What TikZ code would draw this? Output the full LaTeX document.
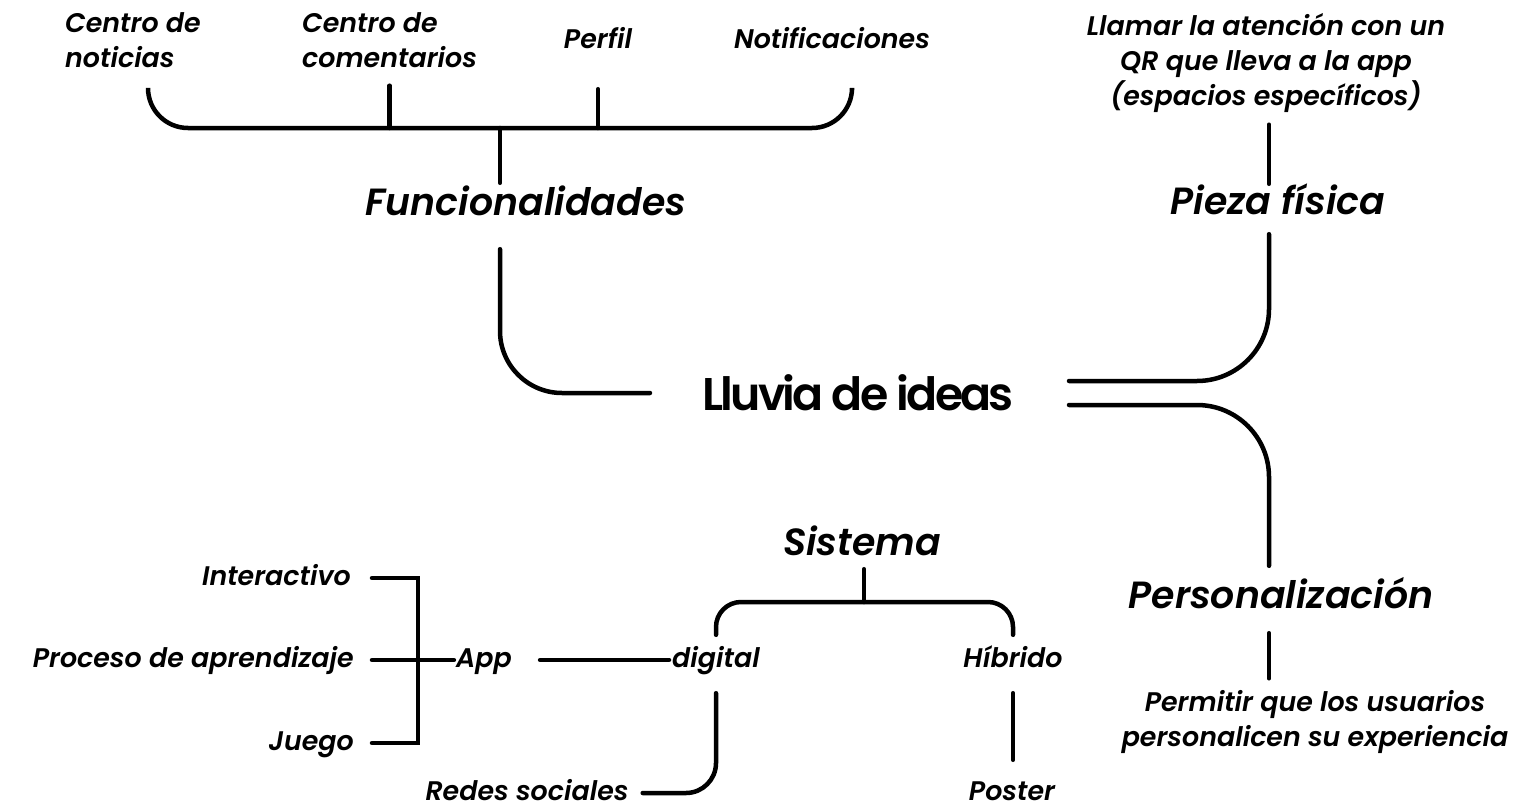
\documentclass[tikz,border=0pt]{standalone}
\usepackage{fontspec}
\setmainfont{Poppins}[ItalicFont={Poppins SemiBold Italic},BoldFont={Poppins SemiBold}]
\usetikzlibrary{positioning}

\tikzset{
  etiqueta/.style={font=\fontsize{27}{35}\selectfont\itshape, inner sep=0pt, align=center, text height=20bp, text depth=6bp},
  nota/.style={font=\fontsize{27}{35}\selectfont\itshape, inner sep=0pt, align=center},
  tema/.style={font=\fontsize{38}{45}\selectfont\itshape, inner sep=0pt, text height=28bp, text depth=8bp},
  central/.style={font=\fontsize{46}{50}\selectfont\bfseries\addfontfeatures{LetterSpace=-6}, inner sep=0pt},
  linea/.style={line width=4.5bp, line cap=round},
}

\begin{document}
\begin{tikzpicture}[x=1bp, y=-1bp]
  \useasboundingbox (0,0) rectangle (1521,808);

  % Idea central
  \node[central] (lluvia) at (858,393) {Lluvia de ideas};

  % Temas
  \node[tema] (func) at (526,205) {Funcionalidades};
  \node[tema] (pieza) at (1278,204) {Pieza física};
  \node[tema] (perso) at (1281,598) {Personalización};
  \node[tema] (sist) at (862,545) {Sistema};

  % Funcionalidades
  \node[nota, align=left, anchor=west] (noti) at (65,40) {Centro de\\noticias};
  \node[nota, align=left, anchor=west] (coment) at (302,40) {Centro de\\comentarios};
  \node[etiqueta] (perfil) at (598,42) {Perfil};
  \node[etiqueta] (notif) at (832,42) {Notificaciones};
  \coordinate (barra) at (500,128);

  \draw[linea, rounded corners=40bp] (148,90) |- (852,128) -- (852,90);
  \draw[linea, shorten <=18bp] (coment.south) -- (coment.south |- barra);
  \draw[linea, shorten <=34bp] (perfil.south) -- (perfil.south |- barra);
  \draw[linea, shorten >=4bp] (barra) -- (barra |- func.north);
  \draw[linea, rounded corners=62bp, shorten <=26bp, shorten >=52bp] (func.south -| barra) |- (lluvia.west);

  % Pieza fisica
  \node[nota] (llamar) at (1266,63) {Llamar la atención con un\\QR que lleva a la app\\(espacios específicos)};
  \coordinate (eje) at (1269,400);
  \draw[linea, shorten <=12bp, shorten >=2bp] (eje |- llamar.south) -- (eje |- pieza.north);
  \draw[linea, rounded corners=72bp, shorten <=55bp, shorten >=12bp] ([yshift=12bp]lluvia.east) -| (eje |- pieza.south);

  % Personalizacion
  \node[nota] (permitir) at (1315,722) {Permitir que los usuarios\\personalicen su experiencia};
  \draw[linea, rounded corners=72bp, shorten <=55bp, shorten >=14bp] ([yshift=-12bp]lluvia.east) -| (eje |- perso.north);
  \draw[linea, shorten <=17bp, shorten >=12bp] (eje |- perso.south) -- (eje |- permitir.north);

  % Sistema
  \node[etiqueta] (digital) at (716,660) {digital};
  \node[etiqueta] (hibrido) at (1013,660) {Híbrido};
  \node[etiqueta] (app) at (484,660) {App};
  \node[etiqueta] (redes) at (527,793) {Redes sociales};
  \node[etiqueta] (poster) at (1012,793) {Poster};
  \coordinate (llave) at (864,602);

  \draw[linea, shorten <=6bp] (sist.south -| llave) -- (llave);
  \draw[linea, rounded corners=25bp, shorten <=12bp, shorten >=12bp] (digital.north) |- (llave) -| (hibrido.north);
  \draw[linea, shorten <=3bp, shorten >=28bp] (digital.west) -- (app.east);
  \draw[linea, rounded corners=30bp, shorten <=20bp, shorten >=14bp] (digital.south) |- (redes.east);
  \draw[linea, shorten <=20bp, shorten >=20bp] (hibrido.south) -- (hibrido.south |- poster.north);

  % App
  \node[etiqueta, anchor=east] (inter) at (351,578) {Interactivo};
  \node[etiqueta, anchor=east] (proceso) at (354,660) {Proceso de aprendizaje};
  \node[etiqueta, anchor=east] (juego) at (354,743) {Juego};
  \coordinate (corchete) at (418,660);

  \draw[linea, shorten <=21bp, shorten >=18bp] (inter.east) -| (corchete |- juego.east) -- (juego.east);
  \draw[linea, shorten <=18bp, shorten >=2bp] (proceso.east) -- (app.west);
\end{tikzpicture}
\end{document}
